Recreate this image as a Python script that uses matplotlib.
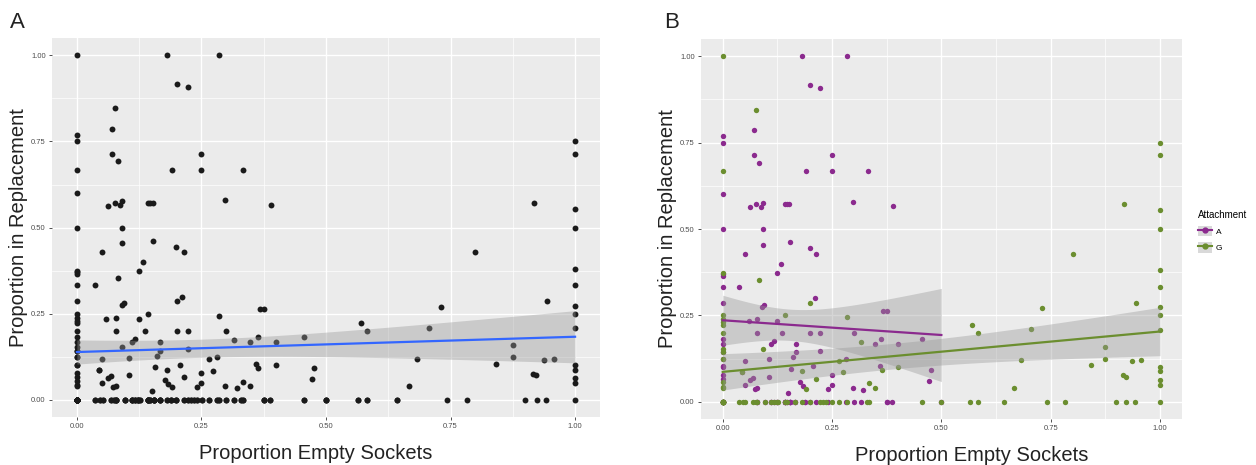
import numpy as np
import matplotlib
matplotlib.use("Agg")
import matplotlib.pyplot as plt
from matplotlib.lines import Line2D
from matplotlib.patches import Patch

# attachment A (purple), non-zero replacement
a_x = [0.181, 0.285, 0.200, 0.222, 0.071, 0.0, 0.0, 0.071, 0.083, 0.25, 0.19, 0.25, 0.333, 0.0,
       0.062, 0.077, 0.087, 0.091, 0.142, 0.147, 0.152, 0.297, 0.0, 0.091, 0.39,
       0.091, 0.153, 0.05, 0.199, 0.214, 0.133, 0.125, 0.0, 0.0, 0.0, 0.037, 0.0, 0.21, 0.095, 0.09,
       0.059, 0.079, 0.125, 0.079, 0.136, 0.2, 0.222, 0.3, 0.167, 0.117, 0.111, 0.0, 0.0, 0.167,
       0.222, 0.161, 0.105, 0.05, 0.281, 0.0, 0.157, 0.207, 0.044, 0.25, 0.0, 0.0, 0.105, 0.069,
       0.063, 0.05, 0.176, 0.183, 0.25, 0.241, 0.079, 0.073, 0.15, 0.298, 0.321,
       0.367, 0.375, 0.348, 0.363, 0.4, 0.455, 0.359, 0.476, 0.471, 0.0, 0.0, 0.0]
a_y = [1.0, 1.0, 0.916, 0.909, 0.786, 0.769, 0.75, 0.714, 0.692, 0.714, 0.667, 0.667, 0.667, 0.6,
       0.563, 0.571, 0.565, 0.576, 0.571, 0.571, 0.571, 0.579, 0.5, 0.5, 0.566,
       0.454, 0.461, 0.428, 0.444, 0.428, 0.399, 0.374, 0.364, 0.37, 0.333, 0.333, 0.286, 0.30, 0.28, 0.274,
       0.235, 0.239, 0.235, 0.2, 0.2, 0.2, 0.2, 0.2, 0.167, 0.177, 0.167, 0.182, 0.167, 0.143,
       0.148, 0.128, 0.123, 0.118, 0.124, 0.102, 0.095, 0.102, 0.087, 0.078, 0.077, 0.067, 0.072, 0.068,
       0.063, 0.049, 0.057, 0.046, 0.049, 0.038, 0.04, 0.038, 0.025, 0.04, 0.035,
       0.263, 0.263, 0.167, 0.182, 0.167, 0.182, 0.103, 0.0915, 0.06, 0.143, 0.125, 0.1]
# attachment A, cases with zero replacement (overlapping marks on the bottom row)
a_zero_x = [0.0, 0.0, 0.0, 0.0, 0.0, 0.0, 0.0, 0.0,
            0.079, 0.110, 0.123, 0.143, 0.155, 0.188, 0.079, 0.110, 0.123, 0.143, 0.155, 0.188,
            0.096, 0.117, 0.166, 0.199, 0.214, 0.241, 0.281, 0.300, 0.316, 0.375, 0.388,
            0.143, 0.147, 0.155, 0.166, 0.143, 0.155, 0.375, 0.5]

# attachment G (green), non-zero replacement
g_x = [0.0, 0.077, 0.0, 0.0, 0.083, 0.2, 0.0, 0.143, 0.285, 0.0, 0.0, 0.0, 0.0, 0.316, 0.091,
       0.0, 0.0, 0.0, 0.266, 0.181, 0.274, 0.044, 0.0, 0.0, 0.0, 0.214, 0.191, 0.364, 0.4, 0.334,
       0.348, 0.571, 0.583, 0.682, 0.667, 0.706, 0.918, 1.0, 1.0, 0.8, 1.0, 1.0, 0.731, 0.944,
       1.0, 1.0, 1.0, 0.875, 0.875, 0.842, 0.937, 0.957, 0.916, 0.922, 1.0, 1.0, 1.0, 1.0, 1.0, 1.0]
g_y = [1.0, 0.846, 0.667, 0.374, 0.353, 0.286, 0.25, 0.25, 0.244, 0.238, 0.23, 0.222, 0.2, 0.174, 0.154,
       0.154, 0.143, 0.125, 0.118, 0.0877, 0.085, 0.087, 0.056, 0.043, 0.04, 0.067, 0.038, 0.0915, 0.1, 0.053,
       0.041, 0.222, 0.2, 0.12, 0.041, 0.21, 0.571, 0.555, 0.5, 0.429, 0.381, 0.333, 0.27, 0.286,
       0.273, 0.25, 0.208, 0.158, 0.125, 0.105, 0.117, 0.12, 0.076, 0.071, 0.1, 0.0877, 0.0625, 0.0476, 0.75, 0.714]
# attachment G, cases with zero replacement
g_zero_x = [0.0, 0.0, 0.0, 0.0, 0.0, 0.0, 0.0, 0.0, 0.0, 0.0, 0.0, 0.0, 0.0,
            0.037, 0.046, 0.052, 0.069, 0.075, 0.079, 0.096, 0.110, 0.117, 0.123, 0.127, 0.143,
            0.147, 0.166, 0.181, 0.199, 0.222, 0.229, 0.236, 0.251, 0.266, 0.285, 0.329, 0.334, 0.455,
            0.5, 0.565, 0.583, 0.643, 0.742, 0.783, 0.9, 0.923, 0.942, 1.0]

# zero-replacement cases without attachment recorded (panel A only, hidden under other marks)
other_zero_x = [0.0] * 12 + [
    0.037, 0.046, 0.052, 0.069, 0.075, 0.079, 0.096, 0.110, 0.117, 0.123, 0.127, 0.143,
    0.147, 0.155, 0.166, 0.181, 0.188, 0.199, 0.214, 0.222, 0.229, 0.236, 0.241, 0.251,
    0.266, 0.281, 0.285, 0.300, 0.316, 0.329, 0.334, 0.375, 0.388, 0.455, 0.5, 0.565,
    0.583, 0.643]

ticks = [0.0, 0.25, 0.5, 0.75, 1.0]
tick_labels = ["0.00", "0.25", "0.50", "0.75", "1.00"]

PURPLE = "#8B2A8E"
GREEN = "#6B8E2F"
BLUE = "#3366FF"
plt.rcParams["font.family"] = ["Liberation Sans", "DejaVu Sans"]

ax_A = np.array(a_x + a_zero_x)
ay_A = np.array(a_y + [0.0] * len(a_zero_x))
ax_G = np.array(g_x + g_zero_x)
ay_G = np.array(g_y + [0.0] * len(g_zero_x))


def lm_band(x, y, n=80):
    # geom_smooth(method="lm") style fit with 95% CI
    b, a = np.polyfit(x, y, 1)
    xs = np.linspace(x.min(), x.max(), n)
    resid = y - (a + b * x)
    df = len(x) - 2
    s = np.sqrt(np.sum(resid ** 2) / df)
    sxx = np.sum((x - x.mean()) ** 2)
    se = s * np.sqrt(1 / len(x) + (xs - x.mean()) ** 2 / sxx)
    t = 1.96 + 2.4 / df
    fit = a + b * xs
    return xs, fit, fit - t * se, fit + t * se


def style(ax, xlab_x):
    ax.set_facecolor("#EBEBEB")
    ax.set_xlim(-0.05, 1.05)
    ax.set_ylim(-0.05, 1.05)
    ax.set_xticks(ticks)
    ax.set_xticklabels(tick_labels)
    ax.set_yticks(ticks)
    ax.set_yticklabels(tick_labels)
    ax.set_xticks([0.125, 0.375, 0.625, 0.875], minor=True)
    ax.set_yticks([0.125, 0.375, 0.625, 0.875], minor=True)
    ax.grid(True, which="major", color="white", lw=1.0)
    ax.grid(True, which="minor", color="white", lw=0.5)
    ax.set_axisbelow(True)
    for sp in ax.spines.values():
        sp.set_visible(False)
    ax.tick_params(which="major", length=2.5, width=0.6, color="#333333",
                   labelsize=5.5, labelcolor="#4D4D4D", pad=2)
    ax.tick_params(which="minor", length=0)
    ax.set_xlabel("Proportion Empty Sockets", fontsize=14.5, color="#222222", labelpad=10)
    ax.xaxis.label.set_x(xlab_x)
    ax.set_ylabel("Proportion in Replacement", fontsize=14.5, color="#222222", labelpad=2)


fig = plt.figure(figsize=(12.56, 4.65), dpi=100)
axA = fig.add_axes([0.0414, 0.103, 0.4363, 0.815])
axB = fig.add_axes([0.558, 0.099, 0.383, 0.817])

# panel A: all data
all_x = np.concatenate([ax_A, ax_G, other_zero_x])
all_y = np.concatenate([ay_A, ay_G, np.zeros(len(other_zero_x))])
style(axA, 0.482)
axA.scatter(all_x, all_y, s=18, color="#1A1A1A", lw=0, zorder=3)
xs, fit, lo, hi = lm_band(all_x, all_y)
axA.fill_between(xs, lo, hi, color="#999999", alpha=0.4, lw=0, zorder=4)
axA.plot(xs, fit, color=BLUE, lw=1.6, zorder=5)

# panel B: by attachment
style(axB, 0.563)
axB.scatter(ax_A, ay_A, s=15, color=PURPLE, lw=0, zorder=3)
axB.scatter(ax_G, ay_G, s=15, color=GREEN, lw=0, zorder=3)
for gx, gy, col in [(ax_A, ay_A, PURPLE), (ax_G, ay_G, GREEN)]:
    xs, fit, lo, hi = lm_band(gx, gy)
    axB.fill_between(xs, lo, hi, color="#999999", alpha=0.4, lw=0, zorder=4)
    axB.plot(xs, fit, color=col, lw=1.6, zorder=5)

fig.text(0.008, 0.975, "A", fontsize=16, color="#222222", va="top")
fig.text(0.529, 0.975, "B", fontsize=16, color="#222222", va="top")

handles = [(Patch(facecolor="#D9D9D9", edgecolor="none"),
            Line2D([], [], color=PURPLE, lw=1.5, marker="o", markersize=3.5)),
           (Patch(facecolor="#D9D9D9", edgecolor="none"),
            Line2D([], [], color=GREEN, lw=1.5, marker="o", markersize=3.5))]
fig.legend(handles, ["A", "G"], title="Attachment", loc="upper left",
           bbox_to_anchor=(0.948, 0.565), frameon=False, fontsize=6,
           title_fontsize=7, handlelength=1.6, handleheight=1.6,
           labelspacing=0.7, handletextpad=0.5, alignment="left")

fig.savefig("out.png", dpi=100, facecolor="white")
